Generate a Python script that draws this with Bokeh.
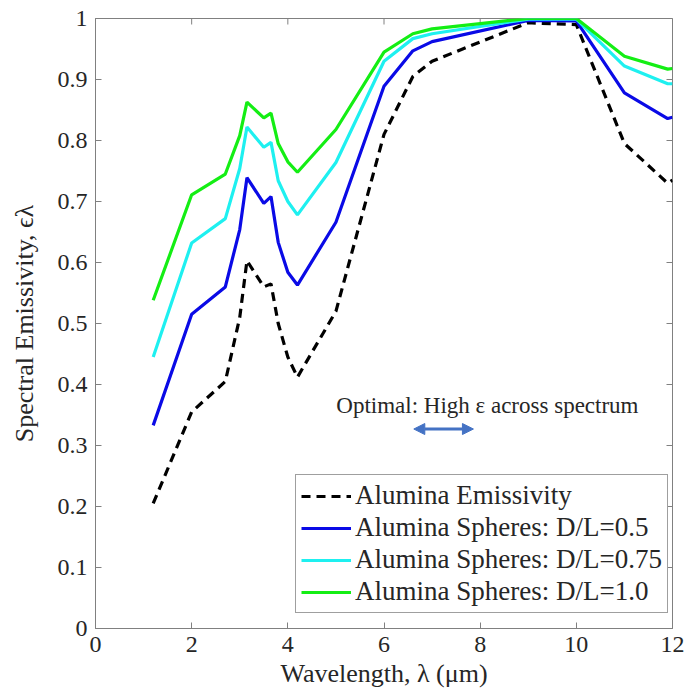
import math
from bokeh.plotting import figure
from bokeh.models import (Range1d, FixedTicker, Legend, LegendItem,
                          Label, Arrow, NormalHead)
from bokeh.embed import file_html
from bokeh.resources import INLINE

wavelength = [1.2, 2.0, 2.7, 3.0, 3.15, 3.5, 3.65, 3.8, 4.0, 4.2, 5.0, 6.0, 6.6, 7.0, 9.0, 10.0, 11.0, 11.9, 12.0]
alumina = [0.205, 0.355, 0.405, 0.51, 0.603, 0.56, 0.565, 0.50, 0.445, 0.412, 0.52, 0.81, 0.905, 0.93, 0.993, 0.99, 0.795, 0.73, 0.735]
spheres_05 = [0.333, 0.515, 0.56, 0.654, 0.739, 0.697, 0.708, 0.633, 0.584, 0.563, 0.666, 0.889, 0.947, 0.962, 0.997, 0.996, 0.878, 0.836, 0.838]
spheres_075 = [0.445, 0.632, 0.672, 0.754, 0.822, 0.789, 0.797, 0.734, 0.700, 0.678, 0.764, 0.930, 0.967, 0.975, 0.999, 0.999, 0.922, 0.893, 0.893]
spheres_10 = [0.538, 0.711, 0.745, 0.808, 0.863, 0.837, 0.845, 0.795, 0.765, 0.748, 0.818, 0.945, 0.975, 0.983, 1.0, 1.0, 0.938, 0.917, 0.918]

series_labels = ["Alumina Emissivity", "Alumina Spheres: D/L=0.5",
                 "Alumina Spheres: D/L=0.75", "Alumina Spheres: D/L=1.0"]
x_ticks = [0, 2, 4, 6, 8, 10, 12]
y_ticks = [0, 0.1, 0.2, 0.3, 0.4, 0.5, 0.6, 0.7, 0.8, 0.9, 1.0]

x_title = "Wavelength, \u03bb (\u03bcm)"
y_title = "Spectral Emissivity, \u03f5\u03bb"
annotation_text = "Optimal: High \u03b5 across spectrum"
annotation_pos = (8.15, 0.366)
arrow_span = (6.62, 7.86, 0.327)

FONT = "Liberation Serif"
AXC = "#808080"
TXT = "#262626"

p = figure(width=687, height=697, output_backend="svg", toolbar_location=None,
           x_range=Range1d(0, 12), y_range=Range1d(0, 1),
           min_border_left=95, min_border_right=15, min_border_top=18, min_border_bottom=69)
p.background_fill_color = "white"
p.border_fill_color = "white"
p.grid.visible = False
p.outline_line_color = AXC
p.outline_line_width = 1

for ax in (p.xaxis[0], p.yaxis[0]):
    ax.axis_line_color = AXC
    ax.major_tick_line_color = AXC
    ax.major_tick_in = 6
    ax.major_tick_out = 0
    ax.minor_tick_line_color = None
    ax.major_label_text_font = FONT
    ax.major_label_text_color = TXT
    ax.major_label_text_font_size = "24px"
    ax.major_label_standoff = 8
    ax.axis_label_text_font = FONT
    ax.axis_label_text_font_style = "normal"
    ax.axis_label_text_color = TXT
    ax.axis_label_text_font_size = "26px"

p.xaxis.ticker = FixedTicker(ticks=x_ticks)
p.yaxis.ticker = FixedTicker(ticks=y_ticks)
p.xaxis.major_label_overrides = {t: str(t) for t in x_ticks}
p.yaxis.major_label_overrides = {t: ("0" if t == 0 else ("1" if t == 1.0 else f"{t:.1f}")) for t in y_ticks}
p.xaxis.axis_label = x_title
p.xaxis.axis_label_standoff = 4
p.yaxis.axis_label = y_title
p.yaxis.axis_label_standoff = 16

# inward ticks on the top and right edges (box on), clipped to the frame
p.scatter(x_ticks, [1.0] * len(x_ticks), marker="dash", angle=math.pi / 2, size=12,
          line_color=AXC, line_width=1)
p.scatter([12.0] * len(y_ticks), y_ticks, marker="dash", size=12,
          line_color=AXC, line_width=1)

r0 = p.line(wavelength, alumina, line_color="black", line_width=3.2, line_dash="9 6")
r1 = p.line(wavelength, spheres_05, line_color="#0a0ae6", line_width=3.2)
r2 = p.line(wavelength, spheres_075, line_color="#1ef0f0", line_width=3.2)
r3 = p.line(wavelength, spheres_10, line_color="#14ee14", line_width=3.2)

legend = Legend(items=[LegendItem(label=lab, renderers=[r]) for lab, r in
                       zip(series_labels, [r0, r1, r2, r3])],
                location=(200, 15))
legend.label_text_font = FONT
legend.label_text_font_size = "27px"
legend.label_text_color = TXT
legend.glyph_width = 50
legend.glyph_height = 30
legend.label_height = 30
legend.spacing = 1
legend.padding = 5
legend.margin = 0
legend.label_standoff = 4
legend.border_line_color = "#404040"
legend.border_line_width = 1
legend.background_fill_alpha = 1
p.add_layout(legend, "center")

p.add_layout(Label(x=annotation_pos[0], y=annotation_pos[1], text=annotation_text,
                   text_font=FONT, text_font_size="23px", text_color=TXT,
                   text_align="center", text_baseline="middle"))
p.add_layout(Arrow(x_start=arrow_span[0], x_end=arrow_span[1], y_start=arrow_span[2], y_end=arrow_span[2],
                   line_color="#4472c4", line_width=3,
                   start=NormalHead(size=11, fill_color="#4472c4", line_color="#4472c4"),
                   end=NormalHead(size=11, fill_color="#4472c4", line_color="#4472c4")))

open("out.html", "w").write(file_html(p, INLINE))
